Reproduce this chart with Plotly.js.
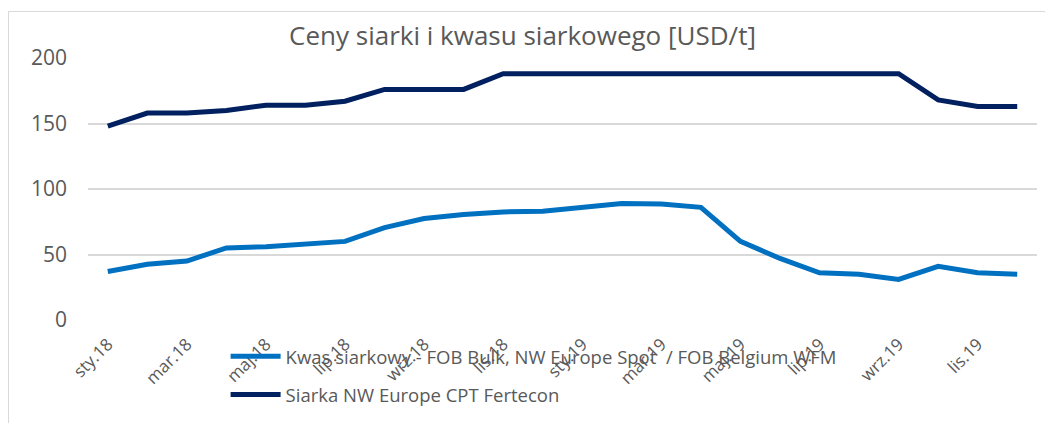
<!DOCTYPE html>
<html>
<head>
<meta charset="utf-8">
<script src="https://cdn.plot.ly/plotly-3.0.1.min.js"></script>
<style>
html,body{margin:0;padding:0;background:#fff;}
#frame{position:absolute;left:8px;top:11px;width:1100px;height:500px;border:1px solid #d9d9d9;box-sizing:border-box;}
#chart{position:absolute;left:0;top:0;width:1045px;height:423px;}
</style>
</head>
<body>
<div id="frame"></div>
<div id="chart"></div>
<script>
const months = ['sty.18','lut.18','mar.18','kwi.18','maj.18','cze.18','lip.18','sie.18','wrz.18','paź.18','lis.18','gru.18',
                'sty.19','lut.19','mar.19','kwi.19','maj.19','cze.19','lip.19','sie.19','wrz.19','paź.19','lis.19','gru.19'];
const tickLabels = ['sty.18','mar.18','maj.18','lip.18','wrz.18','lis.18','sty.19','mar.19','maj.19','lip.19','wrz.19','lis.19'];
const kwasName = 'Kwas siarkowy - FOB Bulk, NW Europe Spot  / FOB Belgium WFM';
const siarkaName = 'Siarka NW Europe CPT Fertecon';
const kwas = [37,42.5,45,55,56,58,60,70.5,77.5,80.5,82.5,83,86,89,88.5,86,60,47,36,35,31,41,36,35];
const siarka = [148,158,158,160,164,164,167,176,176,176,188,188,188,188,188,188,188,188,188,188,188,168,163,163];

const font = "Open Sans, Noto Sans, sans-serif";
const grey = '#595959';

const traces = [
  {x: months, y: kwas, name: kwasName, type: 'scatter', mode: 'lines',
   line: {color: '#0070C0', width: 5}, legendgroup: 'a'},
  {x: months, y: siarka, name: siarkaName, type: 'scatter', mode: 'lines',
   line: {color: '#002060', width: 5}, legendgroup: 'b'}
];

const layout = {
  width: 1045, height: 423,
  paper_bgcolor: 'rgba(0,0,0,0)', plot_bgcolor: 'rgba(0,0,0,0)',
  margin: {l: 88, r: 8, t: 58, b: 103, autoexpand: false},
  font: {family: font, color: grey},
  title: {text: 'Ceny siarki i kwasu siarkowego [USD/t]', x: 0.5, xanchor: 'center', y: 0.915, yanchor: 'middle',
          font: {family: font, size: 26, color: grey}},
  xaxis: {type: 'category', range: [-0.5, 23.5], tickmode: 'array', tickvals: tickLabels, ticktext: tickLabels,
          tickangle: -45, tickfont: {size: 17, color: grey}, showgrid: false, zeroline: false,
          showline: false, ticks: '', ticklabelstandoff: 10, automargin: false, fixedrange: true},
  yaxis: {range: [0, 200], tickvals: [0, 50, 100, 150, 200], tickfont: {size: 21, color: grey},
          gridcolor: '#d9d9d9', gridwidth: 2, zeroline: false, showline: false, ticks: '',
          ticklabelstandoff: 20, automargin: false, fixedrange: true},
  showlegend: true,
  legend: {x: 0.145, xanchor: 'left', y: -0.068, yanchor: 'top', orientation: 'v',
           font: {size: 18.5, color: grey}, bgcolor: 'rgba(0,0,0,0)', tracegroupgap: 11, itemwidth: 50},
  shapes: []
};

Plotly.newPlot('chart', traces, layout, {displayModeBar: false, staticPlot: true});
</script>
</body>
</html>
